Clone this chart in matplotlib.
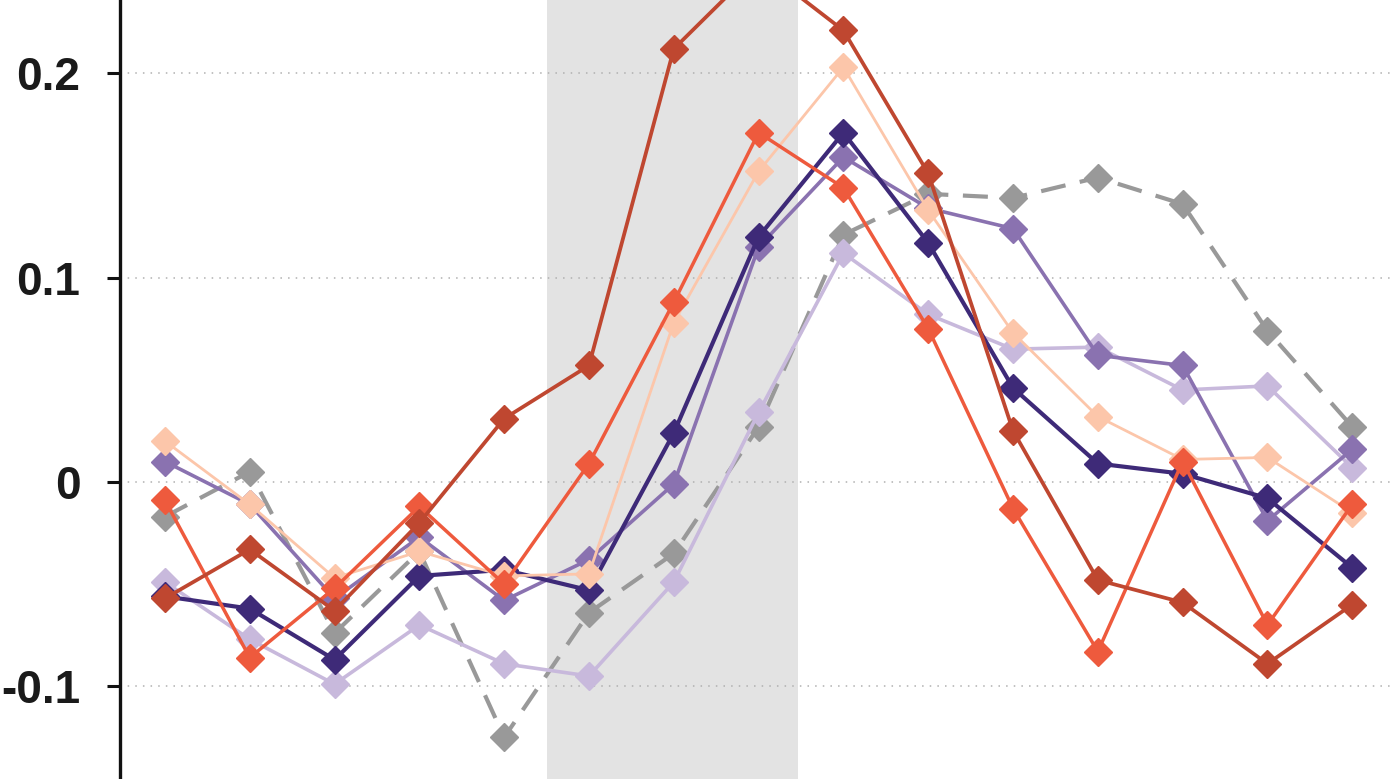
import numpy as np
import matplotlib
matplotlib.use("Agg")
import matplotlib.pyplot as plt

plt.rcParams['font.family'] = ['Liberation Sans', 'DejaVu Sans']
plt.rcParams['axes.unicode_minus'] = False

# time points along x (15 samples)
x = np.arange(15)

brown = [-0.057, -0.033, -0.063, -0.020, 0.031, 0.057, 0.212, 0.253,
         0.221, 0.151, 0.025, -0.048, -0.059, -0.089, -0.060]
orange = [-0.009, -0.086, -0.052, -0.012, -0.050, 0.009, 0.088, 0.171,
          0.144, 0.075, -0.013, -0.083, 0.010, -0.070, -0.011]
peach = [0.020, -0.011, -0.047, -0.034, -0.046, -0.045, 0.078, 0.152,
         0.203, 0.133, 0.073, 0.032, 0.011, 0.012, -0.015]
indigo = [-0.056, -0.062, -0.087, -0.046, -0.043, -0.053, 0.024, 0.120,
          0.171, 0.117, 0.046, 0.009, 0.004, -0.008, -0.042]
purple = [0.010, -0.011, -0.057, -0.027, -0.058, -0.038, -0.001, 0.115,
          0.159, 0.134, 0.124, 0.062, 0.057, -0.019, 0.016]
lavender = [-0.049, -0.077, -0.099, -0.070, -0.089, -0.095, -0.049, 0.034,
            0.112, 0.082, 0.065, 0.066, 0.045, 0.047, 0.007]
gray = [-0.017, 0.005, -0.074, -0.034, -0.125, -0.064, -0.035, 0.027,
        0.121, 0.141, 0.139, 0.149, 0.136, 0.074, 0.027]

yticks = [-0.1, 0, 0.1, 0.2]
ytick_labels = ['-0.1', '0', '0.1', '0.2']

fig = plt.figure(figsize=(13.93, 7.79), dpi=100)
ax = fig.add_axes([120 / 1393, 0, 1 - 120 / 1393, 1])

# shaded window
ax.axvspan(4.5, 7.47, color='#e3e3e3', lw=0, zorder=0)

for yv in yticks:
    ax.axhline(yv, color='#b0b0b0', lw=1.1, ls=(0, (1, 4)), zorder=0.5)

ms = 14
ax.plot(x, gray, color='#999999', lw=3, ls=(0, (6, 3.5)), marker='D',
        ms=ms, mec='#999999', zorder=2)
ax.plot(x, lavender, color='#c8b9dc', lw=2.6, marker='D', ms=ms, zorder=3)
ax.plot(x, purple, color='#8a72b0', lw=2.6, marker='D', ms=ms, zorder=4)
ax.plot(x, indigo, color='#3e2a78', lw=3, marker='D', ms=ms, zorder=5)
ax.plot(x, peach, color='#fcc6aa', lw=2, marker='D', ms=ms, zorder=6)
ax.plot(x, orange, color='#ee5a3d', lw=2.5, marker='D', ms=ms, zorder=7)
ax.plot(x, brown, color='#bf4730', lw=2.7, marker='D', ms=ms, zorder=8)

ax.set_xlim(-0.53, 14.48)
ax.set_ylim(-0.1454, 0.2359)

for side in ['top', 'right', 'bottom']:
    ax.spines[side].set_visible(False)
ax.spines['left'].set_linewidth(2.4)
ax.spines['left'].set_color('#111111')

ax.set_xticks([])
ax.set_yticks(yticks)
ax.set_yticklabels(ytick_labels, fontsize=33, fontweight='bold', color='#1a1a1a')
ax.tick_params(axis='y', length=9.5, width=2.2, color='#111111', pad=19)

fig.savefig('out.png', dpi=100)
